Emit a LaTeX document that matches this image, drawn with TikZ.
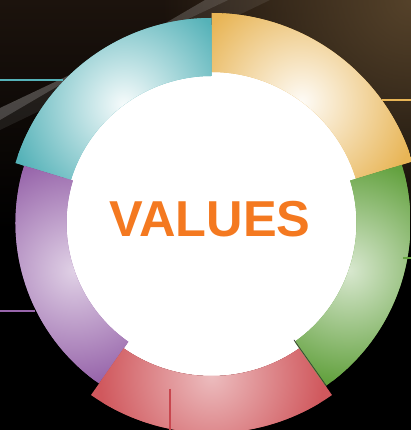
\documentclass[tikz,border=0pt]{standalone}
\usepackage{fontspec}
\setmainfont{Liberation Sans}
\usetikzlibrary{fadings}
\definecolor{cteal}{HTML}{55B2B8}
\definecolor{corange}{HTML}{E8B556}
\definecolor{cgreen}{HTML}{64A240}
\definecolor{cred}{HTML}{D0585D}
\definecolor{credline}{HTML}{C8464E}
\definecolor{cpurple}{HTML}{9866AB}
\definecolor{ctext}{HTML}{F47920}
\definecolor{bgtop}{HTML}{1C130D}
\definecolor{bgbrown}{HTML}{55422A}
\tikzfading[name=softcirc, inner color=transparent!0, outer color=transparent!100]
\newcommand{\ringpart}[7]{%
  \begin{scope}
    \clip (#2:#5) arc[start angle=#2, end angle=#3, radius=#5] -- (#3:#4) arc[start angle=#3, end angle=#2, radius=#4] -- cycle;
    \fill[#1] (0,0) circle (#5+5);
    \shade[inner color=#6, outer color=#1] ({(#2+#3)/2}:#4) circle (#7);
  \end{scope}}
\begin{document}
\begin{tikzpicture}[x=1pt,y=1pt,
  connector/.style={line width=2.2pt}]
\useasboundingbox (0,0) rectangle (411,430);
\begin{scope}
\clip (0,0) rectangle (411,430);
\fill[black] (0,0) rectangle (411,430);
\shade[top color=bgtop, bottom color=black] (0,200) rectangle (411,430);
\fill[bgbrown, path fading=softcirc] (411,430) circle (250);
\fill[white, opacity=0.18] (205,430) -- (228,430) -- (0,322) -- (0,310) -- cycle;
\fill[white, opacity=0.08] (228,430) -- (270,430) -- (0,300) -- (0,322) -- cycle;
\end{scope}
% white centre
\fill[white] (211.5,207) circle (153);
\begin{scope}[shift={(211.5,207)}]
  \ringpart{corange}{17}{90}{151}{210}{corange!5!white}{118}
  \ringpart{cteal}{90}{163}{147}{205}{cteal!5!white}{118}
  \ringpart{cpurple}{163}{235}{145}{196}{cpurple!30!white}{112}
  \ringpart{cred}{235}{305}{153}{210}{cred!40!white}{112}
  \ringpart{cgreen}{-55}{17}{145}{199}{cgreen!25!white}{112}
  \draw[black!80, line width=0.6pt] (-54.8:143) -- (-54.8:200);
\end{scope}
\node[font=\bfseries\fontsize{50.5}{50}\selectfont, text=ctext, anchor=base, inner sep=0pt] (title) at (210,193) {VALUES};
% connectors
\coordinate (tealA) at (0,350);   \coordinate (tealB) at (63,350);
\coordinate (orangeA) at (382,330); \coordinate (orangeB) at (411,330);
\coordinate (greenA) at (403,172); \coordinate (greenB) at (411,172);
\coordinate (purpleA) at (0,119); \coordinate (purpleB) at (35,119);
\coordinate (redA) at (170,41); \coordinate (redB) at (170,0);
\draw[connector, cteal] (tealA) -- (tealB);
\draw[connector, corange] (orangeA) -- (orangeB);
\draw[connector, cgreen] (greenA) -- (greenB);
\draw[connector, cpurple] (purpleA) -- (purpleB);
\draw[connector, credline] (redA) -- (redB);
\end{tikzpicture}
\end{document}
